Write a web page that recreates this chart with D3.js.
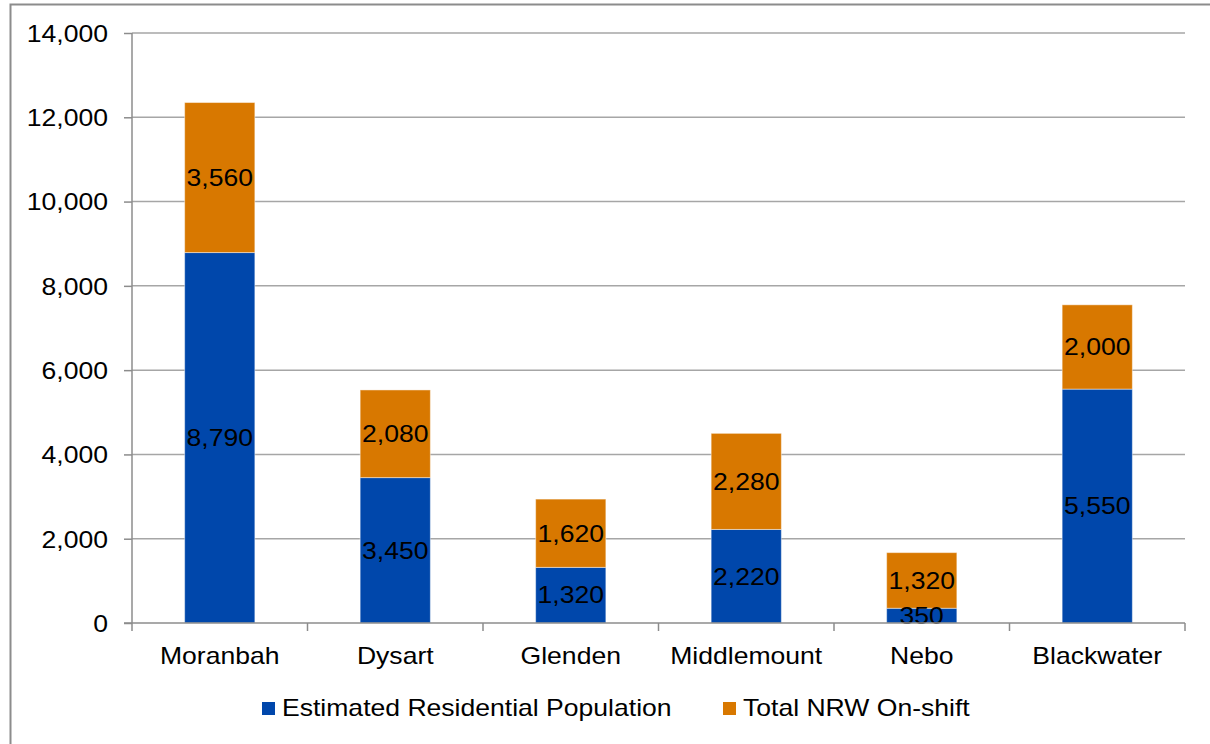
<!DOCTYPE html>
<html><head><meta charset="utf-8">
<script src="https://cdnjs.cloudflare.com/ajax/libs/d3/7.8.5/d3.min.js"></script>
<style>body{margin:0;background:#fff}svg{display:block}text{font-family:"Liberation Sans",Arial,sans-serif;fill:#000}</style>
</head><body><svg id="c" width="1210" height="744"></svg>
<script>
const categories = ["Moranbah","Dysart","Glenden","Middlemount","Nebo","Blackwater"];
const residential = [8790,3450,1320,2220,350,5550];
const nrw = [3560,2080,1620,2280,1320,2000];
const seriesNames = ["Estimated Residential Population","Total NRW On-shift"];
const colors = ["#0047AB","#D87800"];
const yTicks = [0,2000,4000,6000,8000,10000,12000,14000];

const FS = 23, SX = 1.155;
const svg = d3.select("#c");
const L = 132, R = 1185, T = 33, B = 623;
svg.append("rect").attr("x",10.5).attr("y",4.5).attr("width",1210).attr("height",760)
  .attr("fill","none").attr("stroke","#8c8c8c").attr("stroke-width",2);

const x = d3.scaleBand().domain(categories).range([L,R]).paddingInner(0.6).paddingOuter(0.3);
const xb = d3.scaleBand().domain(categories).range([L,R]);
const y = d3.scaleLinear().domain([0,14000]).range([B,T]);
const fmt = d3.format(",");

function wideText(sel, px, py, sx){
  return sel.attr("x",0).attr("y",0).attr("transform",`translate(${px},${py}) scale(${sx},1)`).attr("font-size",FS+"px");
}

// gridlines
svg.append("g").selectAll("line").data(yTicks.filter(d=>d>0)).join("line")
  .attr("x1",L).attr("x2",R).attr("y1",d=>y(d)).attr("y2",d=>y(d))
  .attr("stroke","#a6a6a6").attr("stroke-width",1.5);

// y axis
const ya = svg.append("g").attr("transform",`translate(${L},0)`)
  .call(d3.axisLeft(y).tickValues(yTicks).tickFormat(fmt).tickSize(8).tickPadding(16));
ya.select(".domain").attr("stroke","#8c8c8c").attr("stroke-width",1.5).attr("d",`M0,${T}V${B}`);
ya.selectAll(".tick line").attr("stroke","#8c8c8c").attr("stroke-width",1.5);
ya.selectAll(".tick text").attr("dy",null).attr("font-family",null).attr("fill","#000").each(function(){
  wideText(d3.select(this), -24, 8.3, SX);
});

const data = categories.map((c,i)=>({c, vals:[residential[i], nrw[i]]}));
const stackData = d3.stack().keys([0,1]).value((d,k)=>d.vals[k])(data);

const g = svg.append("g");
stackData.forEach((layer,k)=>{
  g.selectAll(null).data(layer).join("rect")
    .attr("x",d=>x(d.data.c)).attr("width",x.bandwidth())
    .attr("y",d=>y(d[1])).attr("height",d=>y(d[0])-y(d[1]))
    .attr("fill",colors[k]).attr("stroke","rgba(255,255,255,0.45)").attr("stroke-width",1);
});
stackData.forEach((layer,k)=>{
  g.selectAll(null).data(layer).join("text")
    .attr("text-anchor","middle")
    .each(function(d){ wideText(d3.select(this), x(d.data.c)+x.bandwidth()/2, (y(d[0])+y(d[1]))/2+8.3, SX); })
    .text(d=>fmt(d[1]-d[0]));
});

// x axis
const xa = svg.append("g").attr("transform",`translate(0,${B})`);
xa.append("line").attr("x1",L-8).attr("x2",R).attr("y1",0).attr("y2",0).attr("stroke","#8c8c8c").attr("stroke-width",1.5);
const bounds = categories.map(c=>xb(c)).concat([R]);
xa.selectAll(null).data(bounds).join("line")
  .attr("x1",d=>d).attr("x2",d=>d).attr("y1",0).attr("y2",8).attr("stroke","#8c8c8c").attr("stroke-width",1.5);
xa.selectAll(null).data(categories).join("text")
  .attr("text-anchor","middle")
  .each(function(d){ wideText(d3.select(this), xb(d)+xb.bandwidth()/2, 41, SX); })
  .text(d=>d);

// legend
const leg = svg.append("g");
const legX = [262, 723];
seriesNames.forEach((n,i)=>{
  leg.append("rect").attr("x",legX[i]).attr("y",702).attr("width",13).attr("height",13).attr("fill",colors[i]);
  wideText(leg.append("text"), legX[i]+20, 716, SX).text(n);
});
</script></body></html>
